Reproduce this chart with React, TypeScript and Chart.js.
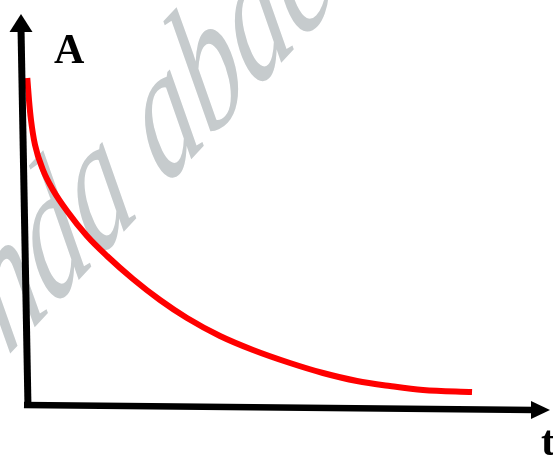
import React, { useEffect, useRef } from "react";
import { Chart, registerables } from "chart.js";

Chart.register(...registerables);

// Decay curve A(t), sampled along the drawn line (arbitrary units)
const tValues = [0.119, 0.151, 0.189, 0.265, 0.416, 0.605, 0.87, 1.248, 1.626, 2.117, 2.628, 3.138, 3.762, 4.386, 5.085, 5.709, 6.352, 6.975, 7.599, 8.526];
const aValues = [8.363, 7.801, 7.289, 6.65, 6.01, 5.499, 4.962, 4.322, 3.811, 3.223, 2.685, 2.225, 1.765, 1.407, 1.074, 0.818, 0.614, 0.486, 0.384, 0.332];

const yAxisLabel = "A";
const xAxisLabel = "t";
const watermarkText = "nda abden";

const SERIF = '"Liberation Serif", "Times New Roman", serif';

// Draws the arrowed axes, the axis letters and the faint watermark
const axesPlugin = {
  id: "arrowAxes",
  beforeDatasetsDraw(chart: any) {
    const { ctx, chartArea } = chart;
    const { left, bottom } = chartArea;
    ctx.save();
    ctx.translate(left - 14, bottom - 48);
    ctx.rotate((-47 * Math.PI) / 180);
    ctx.transform(1, 0, -0.38, 1, 0, 0);
    ctx.scale(1, 1.25);
    ctx.font = `italic 132px ${SERIF}`;
    ctx.fillStyle = "#c6cbcd";
    ctx.textBaseline = "alphabetic";
    ctx.fillText(watermarkText, 0, 0);
    ctx.restore();
  },
  afterDatasetsDraw(chart: any) {
    const { ctx, chartArea } = chart;
    const { left, right, top, bottom } = chartArea;
    ctx.save();
    ctx.strokeStyle = "#000";
    ctx.fillStyle = "#000";
    ctx.lineCap = "butt";

    // vertical axis
    ctx.lineWidth = 7;
    ctx.beginPath();
    ctx.moveTo(left, top + 14);
    ctx.lineTo(left + 7, bottom + 3);
    ctx.stroke();
    ctx.beginPath();
    ctx.moveTo(left, top);
    ctx.lineTo(left + 11.5, top + 18);
    ctx.lineTo(left - 11.5, top + 18);
    ctx.closePath();
    ctx.fill();

    // horizontal axis
    ctx.lineWidth = 6.5;
    ctx.beginPath();
    ctx.moveTo(left + 3, bottom);
    ctx.lineTo(right - 16, bottom + 5);
    ctx.stroke();
    ctx.beginPath();
    ctx.moveTo(right, bottom + 5);
    ctx.lineTo(right - 19, bottom - 4);
    ctx.lineTo(right - 19, bottom + 14);
    ctx.closePath();
    ctx.fill();

    ctx.font = `bold 42px ${SERIF}`;
    ctx.textBaseline = "alphabetic";
    ctx.textAlign = "left";
    ctx.fillText(yAxisLabel, left + 33, top + 49);
    ctx.fillText(xAxisLabel, right - 9, bottom + 50);
    ctx.restore();
  },
};

export default function App() {
  const canvasRef = useRef<HTMLCanvasElement | null>(null);

  useEffect(() => {
    if (!canvasRef.current) return;
    const points = tValues.map((t, i) => ({ x: t, y: aValues[i] }));
    const chart = new Chart(canvasRef.current, {
      type: "line",
      data: {
        datasets: [
          {
            data: points,
            borderColor: "#ff0000",
            borderWidth: 6,
            borderCapStyle: "butt",
            pointRadius: 0,
            cubicInterpolationMode: "monotone",
            fill: false,
          },
        ],
      },
      options: {
        responsive: false,
        animation: false,
        layout: { padding: { left: 21, right: 3, top: 14, bottom: 52 } },
        plugins: { legend: { display: false }, tooltip: { enabled: false } },
        scales: {
          x: { type: "linear", min: 0, max: 10, display: false },
          y: { type: "linear", min: 0, max: 10, display: false },
        },
      },
      plugins: [axesPlugin],
    });
    return () => chart.destroy();
  }, []);

  return (
    <div style={{ position: "fixed", left: 0, top: 0, width: 553, height: 457, background: "#fff" }}>
      <canvas ref={canvasRef} width={553} height={457} />
    </div>
  );
}
